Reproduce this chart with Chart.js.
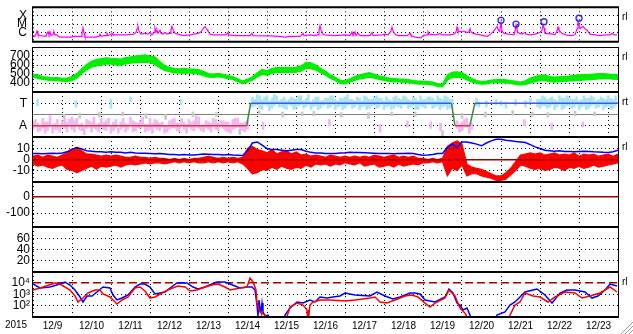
<!DOCTYPE html>
<html>
<head>
<meta charset="utf-8">
<script src="https://cdn.jsdelivr.net/npm/chart.js@4.4.1/dist/chart.umd.min.js"></script>
<style>
html,body{margin:0;padding:0;background:#fff;}
#wrap{position:relative;width:633px;height:334px;overflow:hidden;background:#fff;}
#wrap canvas{position:absolute;left:0;}
</style>
</head>
<body>
<div id="wrap"></div>
<script>
// ================= DATA =================
const yearLabel = '2015';
const dayLabels = ['12/9','12/10','12/11','12/12','12/13','12/14','12/15','12/16','12/17','12/18','12/19','12/20','12/21','12/22','12/23'];

// Panel 1: X-ray flux (days since 12/9 00:00, W/m2)
const xrayTicks = [1e-6, 1e-5, 1e-4];
const xrayTickLabels = ['C', 'M', 'X'];
const xrayDay = [0,.051,.077,.103,.128,.179,.333,.359,.385,.410,.436,.462,.513,.538,.564,.615,.641,.692,.949,1.077,1.231,1.256,1.282,1.308,1.333,1.590,1.692,1.718,1.744,1.821,1.872,1.897,1.923,1.974,2.026,2.051,2.385,2.590,2.641,2.667,2.692,2.718,2.769,2.872,2.949,3.0,3.051,3.103,3.128,3.154,3.179,3.205,3.256,3.282,3.333,3.385,3.436,3.513,3.538,3.564,3.590,3.641,3.718,3.846,4.026,4.128,4.231,4.308,4.359,4.410,4.462,4.487,4.538,4.615,4.949,5.0,5.026,5.179,5.564,5.615,5.641,6.077,6.333,6.462,6.590,6.846,6.897,6.923,6.949,7.103,7.205,7.308,7.333,7.359,7.385,7.436,7.487,7.744,8.0,8.128,8.179,8.205,8.256,8.282,8.333,8.385,8.641,8.692,8.718,8.949,9.026,9.103,9.179,9.205,9.231,9.282,9.359,9.590,9.667,9.692,9.795,9.949,10.0,10.103,10.128,10.154,10.333,10.436,10.487,10.692,10.795,10.846,10.872,10.897,10.974,11.051,11.128,11.179,11.205,11.231,11.282,11.359,11.462,11.641,11.718,11.795,11.846,11.897,11.949,11.974,12.0,12.026,12.077,12.179,12.333,12.359,12.385,12.410,12.436,12.538,12.615,12.641,12.744,12.872,13.0,13.051,13.077,13.103,13.128,13.333,13.385,13.436,13.462,13.487,13.564,13.667,13.795,13.897,13.949,13.974,14.0,14.026,14.077,14.103,14.154,14.205,14.282,14.410,14.538,14.667,14.795,14.846,14.897,14.974];
const xrayFlux = [3.5e-7,3.5e-7,6.5e-7,1.5e-6,5.3e-7,4.3e-7,3.5e-7,8e-7,1.2e-6,5.3e-7,1.2e-6,4.3e-7,6.5e-7,1.2e-6,5.3e-7,5.3e-7,3.5e-7,2.9e-7,2.9e-7,3.5e-7,
3.5e-7,1e-6,3.5e-6,8e-7,2.9e-7,2.9e-7,3.5e-7,6.5e-7,3.5e-7,4.3e-7,
4.3e-7,8e-7,4.3e-7,5.3e-7,8e-7,5.3e-7,5.3e-7,6.5e-7,1e-6,2.8e-6,
5.3e-6,1.5e-6,6.5e-7,8e-7,6.5e-7,1e-6,5.3e-7,1e-6,3.5e-6,1.2e-6,
1.9e-6,8e-7,1.9e-6,8e-7,6.5e-7,1e-6,6.5e-7,8e-7,1.9e-6,5.3e-6,
2.3e-6,8e-7,6.5e-7,4.3e-7,5.3e-7,6.5e-7,8e-7,1.2e-6,2.8e-6,5.3e-6,
2.3e-6,1.5e-6,6.5e-7,5.3e-7,5.3e-7,1e-6,5.3e-7,4.3e-7,4.3e-7,8e-7,
4.3e-7,3.9e-7,3.5e-7,2.9e-7,3.5e-7,3.5e-7,5.3e-7,8e-7,4.3e-7,5.3e-7,
4.3e-7,5.3e-7,1.5e-6,6.5e-6,2.3e-6,6.5e-7,5.3e-7,4.3e-7,5.3e-7,4.3e-7,
1.2e-6,4.3e-7,1.2e-6,4.3e-7,8e-7,4.3e-7,4.3e-7,1e-6,4.3e-7,5.3e-7,
6.5e-7,5.3e-7,1.5e-6,4.3e-6,1.5e-6,6.5e-7,4.3e-7,4.3e-7,8e-7,4.3e-7,
2.9e-7,2.3e-7,4.3e-7,5.3e-7,1.2e-6,6.5e-7,5.3e-7,8e-7,5.3e-7,5.3e-7,
6.5e-7,1.2e-6,4.3e-6,1.5e-6,1.2e-6,1.5e-6,1e-6,1.2e-6,2.8e-6,1.2e-6,
8e-7,6.5e-7,5.3e-7,3.5e-7,5.3e-7,1.2e-6,2.3e-6,5.3e-6,1.5e-6,2.8e-6,
1.5e-5,1.5e-6,8e-7,6.5e-7,5.3e-7,1.5e-6,8e-6,2.3e-6,1e-6,6.5e-7,
1e-6,6.5e-7,5.3e-7,6.5e-7,1e-6,1.9e-6,8e-6,3.5e-6,8e-7,6.5e-7,
5.3e-7,1.5e-6,4.3e-6,1.9e-6,8e-7,5.3e-7,4.3e-7,5.3e-7,2.8e-6,2.3e-5,
1e-5,2.8e-6,4.3e-6,5.3e-6,2.8e-6,1.9e-6,6.5e-7,5.3e-7,4.3e-7,5.3e-7,
5.3e-7,8e-7,5.3e-7,5.3e-7];
const flareDay = [12.0, 12.385, 13.103, 14.0];
const flareFlux = [2.8e-5, 1.0e-5, 1.9e-5, 5.0e-5];

// Panels 2 and 4: envelopes (max / min) sampled every 3 hours
const sampleHours = 3;

// Panel 2: solar wind speed (km/s)
const windTicks = [400, 500, 600, 700];
const windHi = [500,490,472,465,458,460,452,455,470,505,560,605,640,660,670,680,675,672,665,682,690,700,705,712,700,690,640,595,575,560,558,562,555,555,548,530,505,500,508,495,483,472,448,422,445,470,515,550,535,560,572,570,575,570,575,590,630,625,600,565,530,492,465,430,425,448,472,490,505,515,500,480,468,455,450,445,442,438,428,420,422,418,410,392,385,490,520,525,515,480,450,428,418,422,432,438,440,435,428,420,410,425,455,470,485,490,472,465,470,475,478,485,490,492,495,500,505,505,500,495,492];
const windLo = [465,452,440,432,428,425,420,418,425,455,505,545,575,590,600,610,612,600,598,612,620,625,628,630,625,605,570,540,525,512,510,508,512,505,500,482,465,462,470,458,448,440,415,392,410,432,468,495,488,505,518,520,515,518,520,532,565,560,545,515,485,450,428,395,390,408,430,445,455,465,455,440,428,418,412,412,408,405,395,388,390,385,380,360,356,430,460,465,458,435,412,395,386,390,400,405,404,400,395,385,378,382,400,415,425,428,415,410,415,418,422,425,428,432,438,440,445,452,448,442,440];

// Panel 3: IMF sector (A = away, T = toward)
const sectorTicks = [90, 180, 270];
const sectorTickLabels = ['A', '', 'T'];
const sectorDay = [0, 5.48, 5.58, 10.73, 10.82, 11.2, 11.33, 15];
const sectorPhi = [90, 90, 270, 270, 90, 90, 270, 270];
// IMF longitude streaks [day, low, high] (deg)
const phiAway = [[0,60,130],[0.0625,80,140],[0.125,40,110],[0.1875,50,90],[0.25,70,150],[0.3125,30,120],[0.375,50,120],[0.4375,90,170],[0.5,30,100],[0.5625,60,110],[0.625,60,140],[0.6875,40,90],[0.75,80,130],[0.8125,70,150],[0.875,40,120],[0.9375,100,140],[1,60,160],[1.0625,40,130],[1.125,90,150],[1.1875,60,100],[1.25,50,110],[1.3125,20,80],[1.375,70,140],[1.4375,80,130],[1.5,40,120],[1.5625,70,160],[1.625,60,100],[1.6875,40,110],[1.75,80,150],[1.8125,60,120],[1.875,50,130],[1.9375,90,150],[2,30,90],[2.0625,50,120],[2.125,70,140],[2.1875,30,70],[2.25,60,120],[2.3125,80,150],[2.375,40,110],[2.4375,60,100],[2.5,90,160],[2.5625,40,130],[2.625,50,120],[2.6875,70,110],[2.75,70,130],[2.8125,90,160],[2.875,40,100],[2.9375,50,100],[3,60,150],[3.0625,30,110],[3.125,80,140],[3.1875,60,130],[3.25,50,110],[3.3125,80,120],[3.375,30,90],[3.4375,40,90],[3.5,60,130],[3.5625,70,140],[3.625,70,150],[3.6875,50,110],[3.75,40,110],[3.8125,90,150],[3.875,60,120],[3.9375,30,100],[4,80,140],[4.0625,60,120],[4.125,50,130],[4.1875,80,170],[4.25,70,160],[4.3125,50,90],[4.375,40,100],[4.4375,70,130],[4.5,60,120],[4.5625,40,110],[4.625,90,150],[4.6875,60,140],[4.75,50,110],[4.8125,90,130],[4.875,70,130],[4.9375,50,120],[5,40,120],[5.0625,30,90],[5.125,60,140],[5.1875,70,150],[5.25,80,150],[5.3125,60,110],[5.375,50,110],[5.4375,40,120],[5.5,60,130],[10.875,70,130],[10.9375,40,100],[11,50,120],[11.0625,90,140],[11.125,80,150],[11.1875,30,90],[11.25,60,110],[5.9,60,120],[7.6,90,140],[8.9,40,100],[9.6,80,130],[10.2,70,120],[10.45,50,110],[12.6,90,140],[13.3,60,110],[14.1,80,120]];
const phiToward = [[5.625,240,320],[5.6875,250,300],[5.75,260,340],[5.8125,230,330],[5.875,220,300],[5.9375,260,320],[6,250,330],[6.0625,210,290],[6.125,230,310],[6.1875,250,340],[6.25,270,330],[6.3125,240,290],[6.375,240,300],[6.4375,230,320],[6.5,220,290],[6.5625,260,300],[6.625,250,320],[6.6875,220,310],[6.75,230,300],[6.8125,250,330],[6.875,260,330],[6.9375,230,290],[7,240,310],[7.0625,260,340],[7.125,220,280],[7.1875,240,300],[7.25,250,320],[7.3125,220,320],[7.375,230,290],[7.4375,250,290],[7.5,260,310],[7.5625,230,310],[7.625,240,330],[7.6875,260,330],[7.75,220,300],[7.8125,240,290],[7.875,250,310],[7.9375,220,310],[8,230,320],[8.0625,250,340],[8.125,260,300],[8.1875,230,300],[8.25,240,290],[8.3125,260,320],[8.375,220,310],[8.4375,240,290],[8.5,250,330],[8.5625,220,320],[8.625,230,300],[8.6875,250,300],[8.75,260,320],[8.8125,230,330],[8.875,240,310],[8.9375,260,310],[9,220,290],[9.0625,240,320],[9.125,250,300],[9.1875,220,290],[9.25,230,320],[9.3125,250,330],[9.375,240,310],[9.4375,230,300],[9.5,260,330],[9.5625,260,320],[9.625,230,300],[9.6875,240,290],[9.75,250,320],[9.8125,220,310],[9.875,220,290],[9.9375,250,330],[10,240,300],[10.0625,230,300],[10.125,260,320],[10.1875,260,320],[10.25,230,310],[10.3125,240,290],[10.375,250,330],[10.4375,220,310],[10.5,240,300],[10.5625,250,330],[10.625,220,320],[10.6875,230,300],[10.75,230,300],[11.375,250,310],[11.4375,240,280],[11.625,240,290],[11.875,260,300],[12.0,250,290],[12.125,230,280],[12.375,250,300],[12.625,240,290],[12.75,260,310],[12.9375,240,300],[13,230,300],[13.0625,250,330],[13.125,250,320],[13.1875,230,300],[13.25,240,310],[13.3125,260,320],[13.375,220,300],[13.4375,240,290],[13.5,260,330],[13.5625,220,310],[13.625,230,310],[13.6875,250,330],[13.75,250,320],[13.8125,230,300],[13.875,240,300],[13.9375,260,320],[14,220,290],[14.0625,240,300],[14.125,250,330],[14.1875,220,310],[14.25,230,310],[14.3125,250,330],[14.375,260,320],[14.4375,230,290],[14.5,240,300],[14.5625,260,320],[14.625,220,310],[14.6875,240,300],[14.75,250,330],[14.8125,220,310],[14.875,230,300],[14.9375,250,330],[0.12,250,300],[1.1,240,290],[2.0,230,300],[2.5,280,320],[3.8,260,300]];
const phiOther = [[0.8,150,185],[1.2,150,190],[1.7,160,195],[2.3,170,200],[2.9,150,185],[3.4,140,180],[4.1,160,200],[4.7,165,195],[5.3,20,60],[5.8,180,210],[6.4,160,200],[6.9,170,200],[7.2,170,205],[7.9,160,195],[8.6,150,195],[9.2,170,200],[9.8,165,200],[10.5,10,50],[11.0,150,190],[11.6,160,200],[12.3,175,210],[12.8,165,200],[13.2,160,195],[13.9,170,205],[14.4,170,200]];

// Panel 4: IMF |B| and Bz envelope (nT)
const bTicks = [-10, 0, 10];
const btTotal = [5.5,5.5,5.2,5.5,5.8,5.5,6,7,9.5,11,9.5,8,7.5,7,7,6.5,7,6.5,6.5,6,6.5,6,5.8,5.8,5.5,5.2,5.5,5,4.5,4.5,4.2,4.5,4,4.2,4.5,5,4.8,4.5,4.5,4.2,4.5,4,3.8,3.6,8,15,16,13,10,9,9,8.5,8,8.5,9,9,7.5,6.5,6,6,5.5,5.5,5.5,6,6.2,6.5,6.4,6.4,6.2,6,5.8,5.5,5.5,5.5,5.2,5.5,5.5,5.8,5.5,4.5,3.8,4,4.5,5.5,5.5,11,14,11,16,16,15,14,12.5,15,17,18.5,18.5,17.5,17,16.5,16,15.5,13.5,11.5,10,8.5,8,7.5,8,7.3,7.3,7,7.3,7.5,7.3,7,6.8,6.5,6.4,7,8.5];
const bzHi = [3,4,2,4,3,2,4,6,9,11,8,5,5,4,3,4,3,4,3,2,2,3,2,2,1,2,1,1,0,1,0,1,0,1,1,2,3,2,1,2,1,2,1,2,10,12,9,8,6,9,5,7,8,5,7,4,5,3,4,3,2,4,3,2,3,2,3,2,3,2,4,3,2,3,4,2,3,2,3,1,1,0,1,0,1,12,15,17,14,-4,-7,-8,-9,-11,-13,-15,-15,-12,-8,-2,4,5,6,5,6,4,5,6,4,5,4,6,3,5,4,5,3,4,5,3,5];
const bzLo = [-4,-6,-5,-7,-8,-6,-5,-9,-10,-12,-10,-8,-6,-9,-6,-7,-6,-5,-7,-5,-4,-5,-4,-3,-4,-3,-3,-4,-3,-2,-3,-2,-3,-2,-3,-3,-2,-3,-2,-3,-2,-3,-2,-4,-8,-13,-12,-9,-10,-7,-9,-6,-8,-9,-7,-8,-5,-7,-4,-5,-4,-6,-4,-5,-3,-4,-5,-3,-6,-5,-4,-7,-6,-5,-7,-4,-6,-5,-4,-5,-3,-3,-2,-3,-2,-15,-8,-10,-5,-15,-13,-13,-15,-16,-17,-19,-19,-18,-14,-10,-5,-6,-8,-9,-8,-10,-9,-7,-8,-10,-7,-8,-6,-8,-7,-5,-7,-6,-5,-4,-3];

// Panel 5 and 6 scales (no data plotted)
const dstTicks = [-100, 0];
const p6Ticks = [20, 40, 60];

// Panel 7: electron flux
const eTicks = [100, 1000, 10000];
const eTickLabels = ['10\u00B2', '10\u00B3', '10\u2074'];
const eBlueDay = [0,.179,.436,.692,.821,.949,1.077,1.205,1.282,1.385,1.513,1.641,1.795,1.974,2.051,2.154,2.282,2.436,2.615,2.744,2.872,3.0,3.128,3.256,3.385,3.513,3.692,3.949,4.103,4.231,4.410,4.590,4.718,4.923,5.179,5.308,5.487,5.615,5.692,5.744,5.769,5.795,5.821,5.846,5.872,5.897,5.949,6.026,6.128,6.385,6.462,6.590,6.769,6.923,7.103,7.231,7.359,7.538,7.692,7.872,8.0,8.256,8.641,8.821,9.026,9.231,9.410,9.667,9.795,9.923,10.051,10.308,10.564,10.667,10.769,10.872,10.949,11.026,11.128,11.205,11.282,11.846,11.897,12.103,12.231,12.359,12.487,12.615,12.821,12.923,13.128,13.308,13.513,13.692,13.897,14.154,14.333,14.487,14.667,14.795,14.974];
const eBlueFlux = [8150,3590,4410,8150,12300,6640,2390,570,205,700,700,1580,4410,3590,860,310,460,860,4410,8150,8150,4410,1050,1290,1580,3590,10000,10000,4410,2930,4410,8150,12300,12300,5410,3590,4410,4410,2390,110,12,310,60,27,165,27,12,14,3,3,14,60,205,165,310,205,570,460,570,700,1290,860,700,1580,700,380,570,1290,1290,1050,310,205,570,2930,1290,165,110,40,60,14,3,3,14,27,110,205,570,1580,2390,2930,860,165,1290,2390,2390,1580,460,700,2390,8150,5410];
const eRedDay = [0,.179,.564,.692,.949,1.077,1.154,1.282,1.410,1.590,1.718,1.795,1.974,2.154,2.282,2.436,2.615,2.744,2.872,3.0,3.128,3.308,3.513,3.718,3.897,4.026,4.205,4.410,4.590,4.744,4.923,5.051,5.308,5.487,5.564,5.641,5.718,5.744,5.821,5.949,6.077,6.462,6.590,6.769,6.923,7.026,7.051,7.103,7.179,7.359,7.615,8.0,8.256,8.641,8.769,8.897,9.077,9.282,9.538,9.718,9.872,10.051,10.179,10.308,10.564,10.667,10.821,10.949,11.077,11.205,12.103,12.231,12.359,12.487,12.615,12.821,13.0,13.205,13.385,13.641,13.897,14.077,14.282,14.538,14.795,14.974];
const eRedFlux = [2390,3590,10000,8150,2390,700,205,460,1290,2390,2390,1050,570,136,310,570,3590,4410,1950,460,570,1290,2930,5410,4410,1950,2390,4410,6640,8150,4410,2390,3590,4410,27800,12300,2390,165,27,14,3,3,73,165,110,40,3,110,205,310,310,250,310,460,570,205,165,310,700,860,570,165,73,165,460,2390,700,60,21,3,3,14,110,205,1290,700,570,205,570,1580,1290,460,700,1290,4410,1580];

// ================= DRAWING =================
const FONT = "'Liberation Sans', Arial, Helvetica, sans-serif";
Chart.defaults.font.family = FONT;
Chart.defaults.color = '#000';

const C = {
  magenta: '#ff00ff', flare: '#2828ff', green: '#00f000',
  red: '#ff0000', blue: '#0000ff', darkRed: '#a00000',
  pink: '#f5b4f5', cyan: '#a8e4f8', grey: '#c8c8c8',
  secRed: '#e03838', secBlue: '#3c5ae6', secGreen: '#3c8c3c', mid: '#808080'
};
const DOT = [1, 3];
const wrap = document.getElementById('wrap');
const TOPS = [2, 47, 92, 137, 182, 227, 272];
const PH = 45;

const stepDay = sampleHours / 24;
const t3 = windHi.map((_, i) => i * stepDay);
const pts = (xs, ys) => xs.map((x, i) => ({x: x, y: ys[i]}));
const xTickVals = [];
for (let d = 0; d <= dayLabels.length; d++) { xTickVals.push(d); if (d < dayLabels.length) xTickVals.push(d + 0.5); }

// band between max and min of each sample interval
const band = (hi, lo, color, order) => [
  {data: pts(t3, hi), borderColor: color, backgroundColor: color, borderWidth: 1.2, fill: '+1', order: order},
  {data: pts(t3, lo), borderColor: color, borderWidth: 1.2, fill: false, order: order + 1}
];

const frame = {
  id: 'frame',
  afterDatasetsDraw(chart, args, opts) {
    const ctx = chart.ctx, a = chart.chartArea;
    ctx.save();
    ctx.strokeStyle = '#000';
    ctx.lineWidth = 2;
    ctx.beginPath();
    ctx.moveTo(a.left - 1, a.top); ctx.lineTo(a.right + 1, a.top);
    ctx.moveTo(a.left - 1, a.bottom); ctx.lineTo(a.right + 1, a.bottom);
    ctx.stroke();
    ctx.lineWidth = 1;
    ctx.beginPath();
    ctx.moveTo(a.left - 0.5, a.top); ctx.lineTo(a.left - 0.5, a.bottom);
    ctx.moveTo(a.right + 0.5, a.top); ctx.lineTo(a.right + 0.5, a.bottom);
    ctx.stroke();
    ctx.fillStyle = '#000';
    if (opts.side) {
      ctx.font = '10px ' + FONT;
      ctx.textAlign = 'left'; ctx.textBaseline = 'middle';
      ctx.fillText(opts.side, a.right + 4, a.top + 10);
    }
    if (opts.year) {
      ctx.font = '10px ' + FONT;
      ctx.textAlign = 'center'; ctx.textBaseline = 'middle';
      ctx.fillText(opts.year, a.left - 17, a.bottom + 8);
      ctx.strokeStyle = '#9a9a9a';
      ctx.lineWidth = 1;
      const W = chart.width, H = chart.height;
      ctx.beginPath();
      for (const k of [4, 8, 12]) { ctx.moveTo(W - k, H); ctx.lineTo(W, H - k); }
      ctx.stroke();
    }
    ctx.restore();
  }
};

function yAxis(o) {
  const ref = o.ref || {};
  const r = c => (c.tick ? ref[c.tick.value] : null) || {};
  return {
    type: o.type || 'linear', min: o.min, max: o.max, position: 'left', stacked: false,
    afterBuildTicks: s => { s.ticks = o.vals.map(v => ({value: v})); },
    grid: { drawTicks: false, z: o.gridTop ? 1 : -1,
      color: c => r(c).color || '#000',
      lineWidth: c => r(c).width || 1 },
    border: { display: false, dash: c => r(c).dash || DOT },
    ticks: { padding: o.pad || 3, color: '#000', autoSkip: false, font: {size: 12},
      callback: (v, i) => o.labels ? o.labels[i] : String(v) },
    afterFit: s => { s.width = 33; s.paddingTop = 0; s.paddingBottom = 0; }
  };
}

function makePanel(i, y, datasets, frameOpts) {
  const bottom = i === TOPS.length - 1;
  const h = bottom ? 62 : PH;
  const cv = document.createElement('canvas');
  cv.width = 633; cv.height = h;
  cv.style.top = TOPS[i] + 'px'; cv.style.width = '633px'; cv.style.height = h + 'px';
  wrap.appendChild(cv);
  return new Chart(cv, {
    type: 'line',
    data: {datasets: datasets},
    options: {
      responsive: false, animation: false, devicePixelRatio: 1, events: [],
      layout: {padding: {left: 0, right: 15, top: 0, bottom: 0}},
      plugins: {legend: {display: false}, tooltip: {enabled: false}, frame: frameOpts || {}},
      elements: {point: {radius: 0}, line: {tension: 0}},
      scales: {
        x: {
          type: 'linear', min: 0, max: dayLabels.length, offset: false,
          afterBuildTicks: s => { s.ticks = xTickVals.map(v => ({value: v})); },
          grid: { drawTicks: false, lineWidth: 1,
            color: c => (c.tick && Number.isInteger(c.tick.value)) ? '#000' : 'rgba(0,0,0,0)' },
          border: {display: false, dash: DOT},
          ticks: { display: bottom, autoSkip: false, maxRotation: 0, minRotation: 0, padding: 3,
            color: '#000', font: {size: 10},
            callback: v => Number.isInteger(v) ? '' : dayLabels[Math.floor(v)] },
          afterFit: s => { s.height = bottom ? 17 : 0; s.paddingLeft = 0; s.paddingRight = 0; }
        },
        y: y
      }
    },
    plugins: [frame]
  });
}

// Panel 1: X-ray
makePanel(0, yAxis({type: 'logarithmic', min: 8.1e-8, max: 1e-3, vals: xrayTicks, labels: xrayTickLabels, pad: 6}), [
  {data: pts(flareDay, flareFlux), showLine: false, pointRadius: 3, pointStyle: 'circle',
   pointBorderColor: C.flare, pointBackgroundColor: 'rgba(0,0,0,0)', pointBorderWidth: 1.3, order: 0},
  {data: pts(xrayDay, xrayFlux), borderColor: C.magenta, borderWidth: 1.2, order: 1}
], {side: 'rl'});

// Panel 2: solar wind
makePanel(1, yAxis({min: 300, max: 800, vals: windTicks}), band(windHi, windLo, C.green, 0), {side: 'rl'});

// Panel 3: sector
const phiBars = []
  .concat(phiAway.map(p => ({x: p[0], y: [p[1], p[2]], k: 'pink'})))
  .concat(phiToward.map(p => ({x: p[0], y: [p[1], p[2]], k: 'cyan'})))
  .concat(phiOther.map(p => ({x: p[0], y: [p[1], p[2]], k: 'grey'})))
  .sort((a, b) => a.x - b.x);
makePanel(2, yAxis({min: 0, max: 360, vals: sectorTicks, labels: sectorTickLabels, pad: 6,
  ref: {180: {color: C.mid, width: 1, dash: []}}}), [
  {data: pts(sectorDay, sectorPhi), borderWidth: 1.5, borderColor: C.secRed, order: 0,
   segment: {borderColor: c => c.p0.parsed.y !== c.p1.parsed.y ? C.secGreen : (c.p0.parsed.y > 180 ? C.secBlue : C.secRed)}},
  {type: 'bar', data: phiBars, barThickness: 2, borderWidth: 0, order: 1,
   backgroundColor: c => C[(c.raw && c.raw.k) || 'grey']}
], {side: 'rt'});

// Panel 4: IMF
makePanel(3, yAxis({min: -20.5, max: 20.5, vals: bTicks, gridTop: true,
  ref: {0: {color: C.darkRed, width: 1.5, dash: []}}}), [
  {data: pts(t3, btTotal), borderColor: C.blue, borderWidth: 1.5, order: 0}
].concat(band(bzHi, bzLo, C.red, 1)), {side: 'rl'});

// Panel 5
makePanel(4, yAxis({min: -187.5, max: 93.75, vals: dstTicks,
  ref: {0: {color: C.darkRed, width: 1.5, dash: []}}}), [], {});

// Panel 6
makePanel(5, yAxis({min: 0, max: 80, vals: p6Ticks}), [], {});

// Panel 7: electrons
makePanel(6, yAxis({type: 'logarithmic', min: 9.5, max: 95000, vals: eTicks, labels: eTickLabels,
  ref: {10000: {color: C.darkRed, width: 1.5, dash: [8, 4]}}}), [
  {data: pts(eRedDay, eRedFlux), borderColor: C.red, borderWidth: 1.5, order: 0, clip: 0},
  {data: pts(eBlueDay, eBlueFlux), borderColor: C.blue, borderWidth: 1.5, order: 1, clip: 0}
], {side: 'rl', year: yearLabel});
</script>
</body>
</html>
